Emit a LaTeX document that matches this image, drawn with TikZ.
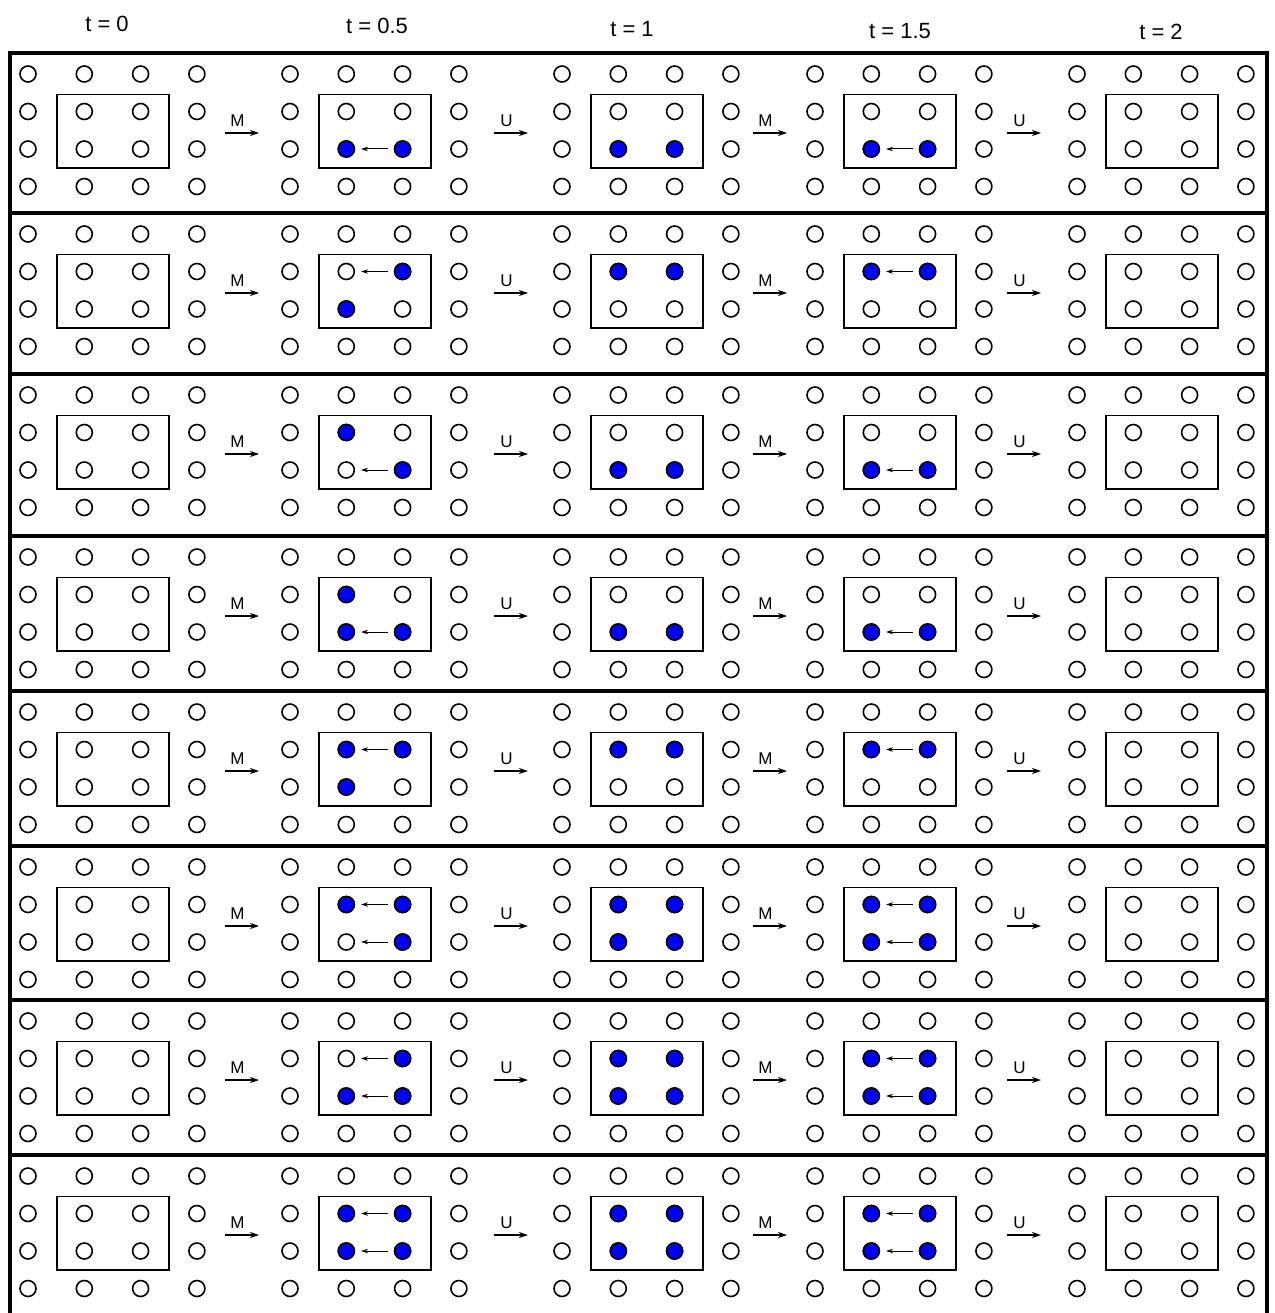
\documentclass[tikz,border=0pt]{standalone}
\usepackage{fontspec}
\setmainfont{Liberation Sans}
\usetikzlibrary{arrows.meta}

\begin{document}
\begin{tikzpicture}[x=1pt, y=-1pt, >=Stealth,
    site/.style={draw, circle, line width=1.6pt, minimum size=16pt, inner sep=0pt},
    atom/.style={site, fill=blue},
    cell/.style={draw, line width=1.8pt},
    hop/.style={->, line width=1pt, shorten >=6pt, shorten <=6pt, >={Stealth[length=7pt, width=4.5pt]}},
    evolve/.style={->, line width=1.1pt, >={Stealth[length=9pt, width=6pt]}},
    frame/.style={line width=3.6pt},
    lbl/.style={font=\fontsize{17}{20}\selectfont, inner sep=0pt},
    title/.style={font=\fontsize{22}{26}\selectfont, inner sep=0pt, anchor=base}]
    \useasboundingbox (0,0) rectangle (1274,1313);

    % time stamps
    \node[title] (t0) at (107,32) {t = 0};
    \node[title] (t1) at (377,34) {t = 0.5};
    \node[title] (t2) at (632,37) {t = 1};
    \node[title] (t3) at (900,39) {t = 1.5};
    \node[title] (t4) at (1161,40) {t = 2};

    % frame and row separators
    \draw[frame] (10,53) rectangle (1267,1316);
    \foreach \yy in {213,374,536,691,846,1000,1155}
        \draw[frame] (10,\yy) -- (1267,\yy);

    % lattice sites, cells and evolution arrows
    \foreach \yy [count=\r] in {53,213,374,536,691,846,1000,1155} {
        \foreach \xx [count=\g] in {28,290,562,815,1077} {
            \foreach \i in {1,...,4}
                \foreach \j in {1,...,4}
                    \node[site] (n\r-\g-\i-\j) at ({\xx+56.3*(\i-1)},{\yy+21+37.5*(\j-1)}) {};
            \draw[cell] ([shift={(-27,-17)}]n\r-\g-2-2.center) rectangle ([shift={(28,19)}]n\r-\g-3-3.center);
        }
        \foreach \xs/\op [count=\k] in {225/M,494/U,753/M,1007/U} {
            \coordinate (s\r-\k) at (\xs,\yy+80);
            \coordinate (e\r-\k) at (\xs+34,\yy+80);
            \draw[evolve] (s\r-\k) -- (e\r-\k);
            \node[lbl, anchor=south] (l\r-\k) at ([shift={(12.5,-6)}]s\r-\k) {\op};
        }
    }

    % occupied sites: TL/TR/BL/BR at t = 0.5
    \foreach \r/\tl/\tr/\bl/\br in {1/0/0/1/1, 2/0/1/1/0, 3/1/0/0/1, 4/1/0/1/1,
                                    5/1/1/1/0, 6/1/1/0/1, 7/0/1/1/1, 8/1/1/1/1} {
        \foreach \i/\j/\v in {2/2/\tl, 3/2/\tr, 2/3/\bl, 3/3/\br} {
            \ifnum\v=1 \node[atom] (a\r-2-\i-\j) at (n\r-2-\i-\j) {}; \fi
        }
        \foreach \j/\v in {2/\tr, 3/\br} {
            \ifnum\v=1
                \draw[hop] (n\r-2-3-\j) -- (n\r-2-2-\j);
                \foreach \g in {3,4} {
                    \node[atom] (a\r-\g-2-\j) at (n\r-\g-2-\j) {};
                    \node[atom] (a\r-\g-3-\j) at (n\r-\g-3-\j) {};
                }
                \draw[hop] (a\r-4-3-\j) -- (a\r-4-2-\j);
            \fi
        }
    }
\end{tikzpicture}
\end{document}
